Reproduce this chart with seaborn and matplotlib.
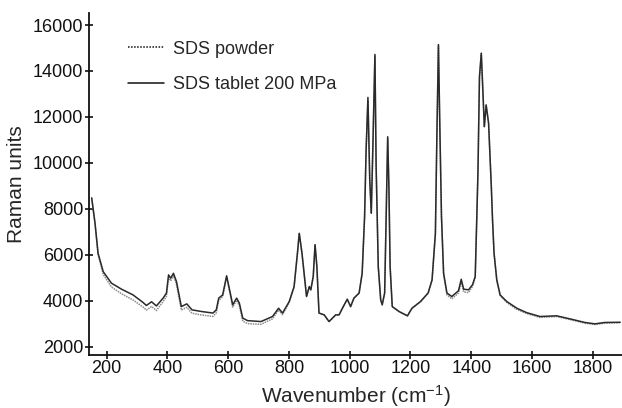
import numpy as np
import pandas as pd
import matplotlib
matplotlib.use("Agg")
import matplotlib.pyplot as plt
import seaborn as sns

# Wavenumbers (cm-1)
wavenumber = [151, 162, 172, 189, 216, 249, 287, 320, 331, 348, 364, 386, 397, 404, 411, 420,
              430, 446, 464, 481, 511, 550, 561, 569, 582, 595, 607, 615, 628, 637, 648, 664,
              708, 746, 766, 779, 801, 817, 828, 834, 843, 858, 867, 872, 880, 886, 892, 899,
              916, 932, 954, 965, 976, 992, 1003, 1014, 1031, 1041, 1049, 1054, 1060, 1066,
              1071, 1076, 1083, 1087, 1094, 1102, 1107, 1115, 1120, 1125, 1129, 1133, 1140,
              1162, 1184, 1190, 1205, 1233, 1258, 1271, 1282, 1287, 1292, 1296, 1302, 1309,
              1320, 1336, 1358, 1367, 1375, 1391, 1404, 1413, 1418, 1422, 1427, 1433, 1438,
              1443, 1449, 1457, 1466, 1470, 1475, 1484, 1495, 1517, 1550, 1582, 1626, 1681,
              1730, 1774, 1807, 1839, 1890]

# SDS tablet 200 MPa (solid)
tablet = [8480, 7380, 6070, 5270, 4770, 4510, 4260, 3930, 3800, 3960, 3780, 4120, 4340, 5130, 4990, 5200,
          4840, 3750, 3870, 3610, 3540, 3470, 3610, 4120, 4260, 5090, 4340, 3830, 4120, 3900, 3250, 3140,
          3100, 3320, 3680, 3470, 3970, 4620, 6070, 6940, 6070, 4190, 4620, 4480, 5060, 6440, 5490, 3470,
          3390, 3100, 3390, 3390, 3680, 4070, 3750, 4120, 4340, 5200, 7670, 10570, 12850, 9260,
          7810, 10570, 14720, 9840, 5490, 4040, 3830, 4340, 7670, 11140, 8970, 5490, 3750,
          3540, 3390, 3350, 3680, 3970, 4340, 4910, 6940, 11290, 15150, 12010, 7670, 5200,
          4340, 4190, 4440, 4940, 4510, 4480, 4700, 5060, 7520, 9570, 13750, 14770, 13200,
          11580, 12520, 11730, 8970, 7520, 6070, 4910, 4260, 3970, 3680, 3490, 3320, 3350,
          3200, 3060, 3000, 3060, 3070]

# SDS powder (dotted)
powder = [8480, 7360, 6020, 5150, 4600, 4310, 4040, 3730, 3600, 3760, 3580, 3970, 4200, 5030, 4870, 5100,
          4720, 3600, 3720, 3460, 3390, 3320, 3480, 4020, 4180, 5040, 4260, 3730, 4020, 3790, 3120, 3010,
          2980, 3220, 3600, 3400, 3940, 4600, 6070, 6940, 6070, 4190, 4620, 4480, 5060, 6440, 5490, 3470,
          3390, 3100, 3390, 3390, 3680, 4070, 3750, 4120, 4340, 5200, 7670, 10570, 12700, 9260,
          7810, 10570, 14650, 9840, 5490, 4040, 3830, 4340, 7670, 11050, 8970, 5490, 3750,
          3540, 3390, 3350, 3680, 3970, 4340, 4910, 6940, 11290, 15100, 12010, 7670, 5150,
          4260, 4090, 4340, 4840, 4390, 4360, 4620, 5010, 7520, 9570, 13750, 14770, 13200,
          11580, 12520, 11730, 8970, 7520, 6070, 4890, 4230, 3930, 3630, 3450, 3280, 3320,
          3170, 3030, 2970, 3030, 3050]

series_names = ["SDS powder", "SDS tablet 200 MPa"]
x_ticks = [200, 400, 600, 800, 1000, 1200, 1400, 1600, 1800]
y_ticks = [2000, 4000, 6000, 8000, 10000, 12000, 14000, 16000]

df = pd.DataFrame({
    "Wavenumber": wavenumber * 2,
    "Raman": powder + tablet,
    "Sample": [series_names[0]] * len(powder) + [series_names[1]] * len(tablet),
})

sns.set_style("ticks")
plt.rcParams["font.family"] = ["Liberation Sans", "DejaVu Sans"]
plt.rcParams["mathtext.default"] = "regular"

fig = plt.figure(figsize=(6.22, 4.08), dpi=100)
ax = fig.add_axes([0.143, 0.131, 0.857, 0.837])

sns.lineplot(data=df[df.Sample == series_names[0]], x="Wavenumber", y="Raman",
             ax=ax, color="#8c8c8c", linewidth=1.1, linestyle=(0, (1, 0.6)),
             label=series_names[0])
sns.lineplot(data=df[df.Sample == series_names[1]], x="Wavenumber", y="Raman",
             ax=ax, color="#2a2a2a", linewidth=1.1, label=series_names[1])

ax.set_xlim(142, 1896)
ax.set_ylim(1665, 16520)
ax.set_xticks(x_ticks)
ax.set_yticks(y_ticks)
ax.set_xticklabels([str(t) for t in x_ticks])
ax.set_yticklabels([str(t) for t in y_ticks])
ax.tick_params(direction="inout", length=6, width=1.2, labelsize=13, colors="#111111", pad=1)
for s in ["top", "right"]:
    ax.spines[s].set_visible(False)
for s in ["left", "bottom"]:
    ax.spines[s].set_linewidth(1.3)
    ax.spines[s].set_color("#111111")

ax.set_xlabel("Wavenumber (cm$^{-1}$)", fontsize=15, labelpad=0)
ax.set_ylabel("Raman units", fontsize=15, labelpad=3)
ax.yaxis.set_label_coords(-0.118, 0.5)
ax.xaxis.set_label_coords(0.5, -0.085)

leg = ax.legend(loc="upper left", bbox_to_anchor=(0.06, 0.94), frameon=False,
                fontsize=13, handlelength=2.0, labelspacing=1.0, handletextpad=0.5,
                borderaxespad=0)
leg_handles = leg.get_lines()
leg_handles[0].set_color("#111111")
leg_handles[0].set_linestyle((0, (1, 1)))
leg_handles[1].set_color("#111111")

fig.savefig("out.png", dpi=100)
